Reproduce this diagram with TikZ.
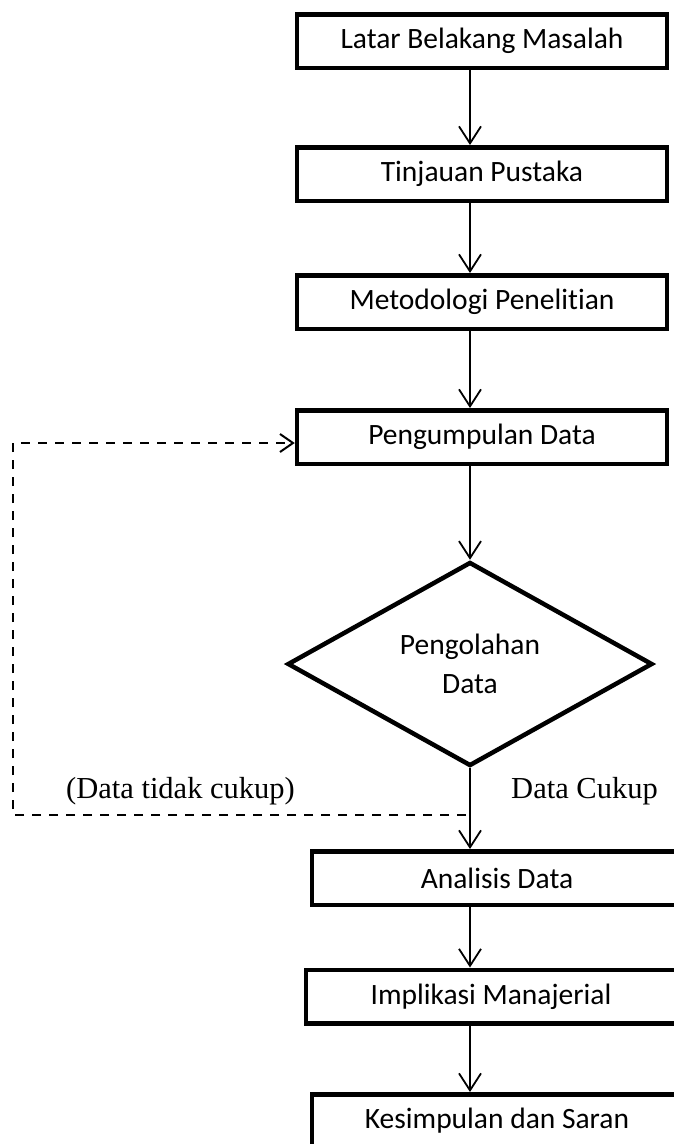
\documentclass[tikz,border=0pt]{standalone}
\usepackage{fontspec}
\setmainfont[Ligatures=NoCommon]{Carlito}
\newfontfamily\timesfont{Liberation Serif}
\usetikzlibrary{arrows.meta,shapes.geometric}

\begin{document}
\begin{tikzpicture}[x=1pt, y=-1pt,
    kotak/.style={draw, line width=4.5pt, minimum width=370, minimum height=53.5, inner sep=0pt, font=\fontsize{29.5}{35}\selectfont},
    panah/.style={line width=1.8pt, -{Straight Barb[length=17pt,width=22pt]}},
    ket/.style={anchor=base, font=\timesfont\fontsize{30.5}{34}\selectfont}]
            \useasboundingbox (0,0) rectangle (674,1144);

            % 流程框
            \node[kotak] (latar) at (482,41) {Latar Belakang Masalah};
            \node[kotak] (tinjauan) at (482,174) {Tinjauan Pustaka};
            \node[kotak] (metode) at (482,302) {Metodologi Penelitian};
            \node[kotak] (kumpul) at (482,437) {Pengumpulan Data};

            % 判断
            \node[draw, diamond, line width=4.5pt, minimum width=365, minimum height=204, inner sep=0pt,
                align=center, font=\fontsize{29.5}{39}\selectfont] (olah) at (470,664) {Pengolahan\\Data};

            \node[kotak] (analisis) at (497,878) {Analisis Data};
            \node[kotak] (implikasi) at (491,996.5) {Implikasi Manajerial};
            \node[kotak] (simpul) at (497,1121) {Kesimpulan dan Saran};

            % 箭头
            \draw[panah] (latar.south -| olah) -- (tinjauan.north -| olah);
            \draw[panah] (tinjauan.south -| olah) -- (metode.north -| olah);
            \draw[panah] (metode.south -| olah) -- (kumpul.north -| olah);
            \draw[panah] (kumpul.south -| olah) -- (olah.north);
            \draw[panah] (olah.south) -- (analisis.north -| olah);
            \draw[panah] (analisis.south -| olah) -- (implikasi.north -| olah);
            \draw[panah] (implikasi.south -| olah) -- (simpul.north -| olah);

            % 回路
            \coordinate (cabang) at (466,815);
            \coordinate (sudut) at (13,815);
            \draw[line width=2pt, dash pattern=on 9pt off 8pt, -{Straight Barb[length=13pt,width=18pt]}]
                (cabang) -- (sudut) |- ([yshift=-6pt]kumpul.west);

            \node[ket] (tidak) at (180.5,798) {(Data tidak cukup)};
            \node[ket] (cukup) at (584.5,798) {Data Cukup};
        \end{tikzpicture}
\end{document}
